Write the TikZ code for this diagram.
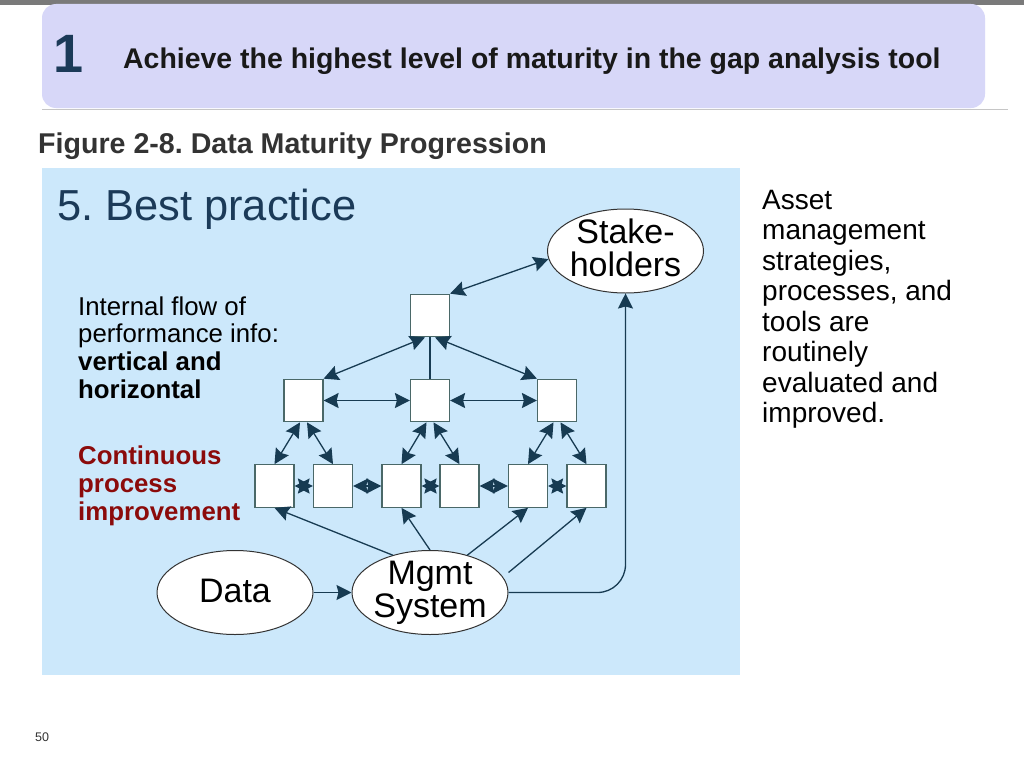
\documentclass[tikz,border=0pt]{standalone}
\usepackage{fontspec}
\setmainfont{Liberation Sans}
\frenchspacing
\usetikzlibrary{shapes.geometric,arrows.meta,calc}
\definecolor{panel}{HTML}{CCE8FB}
\definecolor{hdr}{HTML}{D7D7F8}
\definecolor{navy}{HTML}{173B52}
\definecolor{boxline}{HTML}{4A6868}
\definecolor{titleblue}{HTML}{1B3A58}
\definecolor{darkred}{HTML}{8B0B0B}
\definecolor{figgray}{HTML}{333333}
\tikzset{
  sq/.style={draw=boxline, line width=1.2pt, fill=white, minimum width=39pt, minimum height=42.5pt, inner sep=0pt},
  ell/.style={ellipse, draw=black!80, line width=1pt, fill=white, minimum width=156pt, minimum height=84pt, inner sep=0pt},
  elltxt/.style={font=\fontsize{34}{33}\selectfont, align=center, inner sep=0pt, text=black},
  tip/.tip={Stealth[length=15pt,width=15pt,inset=2pt]},
  arr/.style={draw=navy, line width=1.3pt, -tip},
  darr/.style={draw=navy, line width=1.3pt, tip-tip},
  plainline/.style={draw=navy, line width=1.3pt},
  txt/.style={inner sep=0pt, anchor=base west, align=left}
}
\begin{document}
\begin{tikzpicture}[x=1pt,y=-1pt]
\useasboundingbox (0,0) rectangle (1024,768);
\fill[white] (0,0) rectangle (1024,768);
% header
\fill[gray!70!black!80] (0,0) rectangle (1024,5);
\fill[hdr, rounded corners=14pt] (42,4) rectangle (985,108);
\draw[gray!45, line width=1pt] (42,109.5) -- (1008,109.5);
\node[txt, font=\bfseries\fontsize{54}{54}\selectfont, text=titleblue] (num) at (53,72) {1};
\node[txt, font=\bfseries\fontsize{28.45}{30}\selectfont, text=black!90] (title) at (123,68) {Achieve the highest level of maturity in the gap analysis tool};
\node[txt, font=\bfseries\fontsize{28.6}{30}\selectfont, text=figgray] (cap) at (38,153) {Figure 2-8. Data Maturity Progression};
% panel
\fill[panel] (42,168) rectangle (740,675);
\node[txt, font=\fontsize{43.4}{45}\selectfont, text=titleblue] (bp) at (57,220) {5. Best practice};
% multi-line nodes: base anchor is on the last line
\node[txt, font=\fontsize{25.8}{27.8}\selectfont, text=black] (flow) at (78,398.5) {Internal flow of\\performance info:\\\textbf{vertical and}\\\textbf{horizontal}};
\node[txt, font=\bfseries\fontsize{25.8}{27.6}\selectfont, text=darkred] (cpi) at (78,520) {Continuous\\process\\improvement};
\node[txt, font=\fontsize{28}{30.5}\selectfont, text=black] (right) at (762,422.5) {Asset\\management\\strategies,\\processes, and\\tools are\\routinely\\evaluated and\\improved.};
\node[txt, font=\fontsize{12.5}{14}\selectfont, text=figgray] (pg) at (35,741) {50};
% boxes
\node[sq] (t) at (430,315.5) {};
\node[sq] (m1) at (303.5,400.5) {};
\node[sq] (m2) at (430,400.5) {};
\node[sq] (m3) at (557,400.5) {};
\node[sq] (b1) at (274.5,486) {};
\node[sq] (b2) at (333,486) {};
\node[sq] (b3) at (401.5,486) {};
\node[sq] (b4) at (459.5,486) {};
\node[sq] (b5) at (528,486) {};
\node[sq] (b6) at (586.5,486) {};
% ellipses
\node[ell, label={[elltxt, yshift=3pt]center:{Stake-\\holders}}] (s) at (625.5,251) {};
\node[ell, label={[elltxt]center:{Mgmt\\System}}] (g) at (430,592.5) {};
\node[ell, label={[elltxt, yshift=2pt]center:{Data}}] (d) at (235,592.5) {};
% connectors
\draw[darr] ($(t.south)+(-5,0)$) -- (m1.north east);
\draw[darr] ($(t.south)+(5,0)$) -- (m3.north west);
\draw[plainline] (t.south) -- (m2.north);
\draw[darr] (m1.east) -- (m2.west);
\draw[darr] (m2.east) -- (m3.west);
\draw[darr] ($(m1.south)+(-3.5,0)$) -- (b1.north);
\draw[darr] ($(m1.south)+(3.5,0)$) -- (b2.north);
\draw[darr] ($(m2.south)+(-3.5,0)$) -- (b3.north);
\draw[darr] ($(m2.south)+(3.5,0)$) -- (b4.north);
\draw[darr] ($(m3.south)+(-3.5,0)$) -- (b5.north);
\draw[darr] ($(m3.south)+(3.5,0)$) -- (b6.north);
\draw[darr] (b1.east) -- (b2.west);
\draw[darr] (b2.east) -- (b3.west);
\draw[darr] (b3.east) -- (b4.west);
\draw[darr] (b4.east) -- (b5.west);
\draw[darr] (b5.east) -- (b6.west);
\draw[darr] (t.north east) -- (s.186);
\draw[arr] (d.east) -- (g.west);
\draw[arr] (g.135) -- (b1.south);
\draw[arr] (g.north) -- (b3.south);
\draw[arr] (g.45) -- (b5.south);
\draw[arr] ($(g.east)+(0,-20)$) -- (b6.south);
\draw[arr, rounded corners=28pt] (g.east) -| (s.south);
\end{tikzpicture}
\end{document}
